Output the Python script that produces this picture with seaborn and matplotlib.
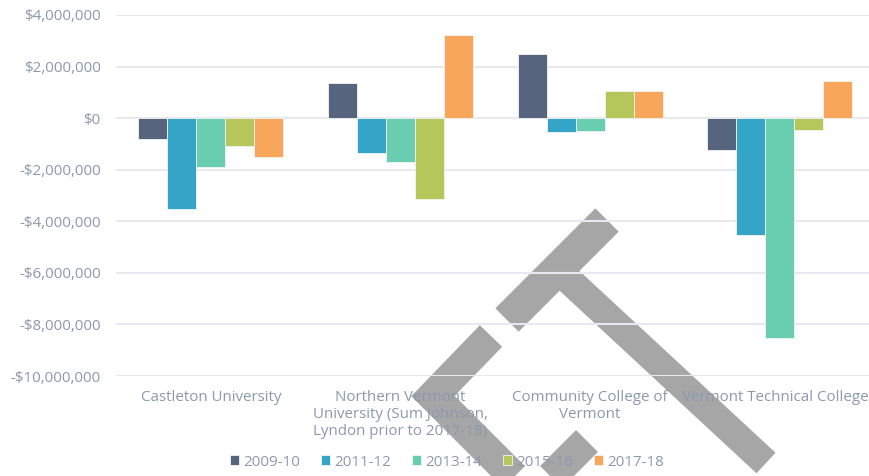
import matplotlib
matplotlib.use("Agg")
import matplotlib.pyplot as plt
import matplotlib.ticker as mticker
import matplotlib.transforms as mtrans
from matplotlib.lines import Line2D
import seaborn as sns
import pandas as pd

# ---- data ----
categories = [
    "Castleton University",
    "Northern Vermont\nUniversity (Sum Johnson,\nLyndon prior to 2017-18)",
    "Community College of\nVermont",
    "Vermont Technical College",
]
years = ["2009-10", "2011-12", "2013-14", "2015-16", "2017-18"]
v_2009_10 = [-810000, 1380000, 2490000, -1240000]
v_2011_12 = [-3530000, -1370000, -530000, -4550000]
v_2013_14 = [-1900000, -1690000, -490000, -8540000]
v_2015_16 = [-1080000, -3140000, 1050000, -470000]
v_2017_18 = [-1510000, 3240000, 1070000, 1450000]
series = [v_2009_10, v_2011_12, v_2013_14, v_2015_16, v_2017_18]
colors = ["#56657D", "#34A5C7", "#68CEAF", "#B5C75B", "#F7A65A"]
yticks = [-10000000, -8000000, -6000000, -4000000, -2000000, 0, 2000000, 4000000]

rows = []
for yr, vals in zip(years, series):
    for c, v in zip(categories, vals):
        rows.append({"College": c, "Year": yr, "Value": v})
df = pd.DataFrame(rows)

# ---- figure ----
sns.set_theme(style="white")
plt.rcParams["font.family"] = ["Open Sans", "DejaVu Sans"]
txt = "#8D98AD"
fs = 10.9

W, H = 869, 476
fig = plt.figure(figsize=(W / 100, H / 100), dpi=100)
fig.patch.set_facecolor("white")
ax = fig.add_axes([116 / W, 1 - 376 / H, 1 - 116 / W, (376 - 15) / H])
ax.patch.set_alpha(0)

sns.barplot(data=df, x="College", y="Value", hue="Year", order=categories,
            hue_order=years, palette=colors, saturation=1, width=0.765,
            dodge=True, edgecolor="#f4f4f4", linewidth=0.6, errorbar=None,
            ax=ax, legend=True, zorder=3)

ax.set_xlim(-0.5, 3.47)
ax.set_ylim(min(yticks), max(yticks))
ax.set_yticks(yticks)
ax.yaxis.set_major_formatter(mticker.FuncFormatter(
    lambda v, p: ("-$" if v < 0 else "$") + f"{abs(int(v)):,}"))
ax.grid(axis="y", color="#E8E8EF", linewidth=1.5, zorder=1)
ax.set_axisbelow(True)
for s in ax.spines.values():
    s.set_visible(False)
ax.tick_params(axis="y", length=0, pad=11, labelsize=fs, labelcolor=txt)
ax.tick_params(axis="x", length=0, pad=10, labelsize=fs, labelcolor=txt)
xlabs = ax.get_xticklabels()
for lab in xlabs:
    lab.set_linespacing(1.2)
    lab.set_va("top")
# keep the last category label inside the picture
xlabs[-1].set_transform(xlabs[-1].get_transform() +
                        mtrans.ScaledTranslation(-5 / 100, 0, fig.dpi_scale_trans))
ax.set_xlabel("")
ax.set_ylabel("")

# legend
h, l = ax.get_legend_handles_labels()
ax.legend_.remove()
leg = fig.legend(h, l, loc="center", bbox_to_anchor=(447 / W, 1 - 462 / H),
                 ncol=5, frameon=False, fontsize=fs, handlelength=0.6,
                 handleheight=0.6, handletextpad=0.3, columnspacing=1.35)
for t in leg.get_texts():
    t.set_color(txt)

# grey gavel-shaped overlay seen in the reference picture (drawn behind chart)
gray = "#A6A6A6"
def stroke(pts, w):
    fig.add_artist(Line2D([p[0] / W for p in pts], [1 - p[1] / H for p in pts],
                          color=gray, lw=w * 0.72, solid_capstyle="butt",
                          solid_joinstyle="miter", zorder=-1,
                          transform=fig.transFigure))
stroke([(507, 320), (607, 220)], 33)
stroke([(560, 272), (766, 463)], 28)
stroke([(491, 336), (433, 396), (540, 503)], 31)
stroke([(587, 441), (540, 488)], 31)
stroke([(329, 479), (360, 510)], 31)

fig.savefig("out.png", dpi=100, facecolor="white")
